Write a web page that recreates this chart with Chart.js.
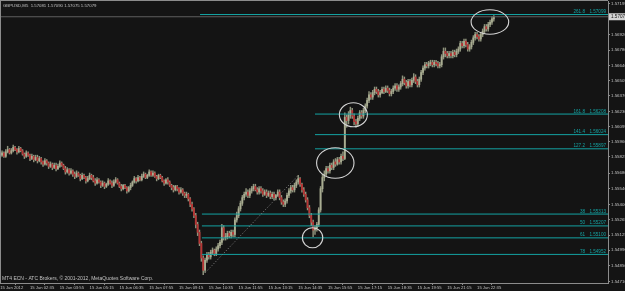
<!DOCTYPE html>
<html><head><meta charset="utf-8">
<script src="https://cdn.jsdelivr.net/npm/chart.js@4.4.1/dist/chart.umd.min.js"></script>
<style>html,body{margin:0;padding:0;background:#141414;}canvas{display:block;}</style>
</head><body>
<canvas id="c" width="625" height="291"></canvas>
<script>
const symbolTitle = "GBPUSD,M5  1.57081 1.57090 1.57075 1.57079";
const copyright = "MT4 ECN - ATC Brokers, \u00A9 2001-2012, MetaQuotes Software Corp.";
const timeLabels = ["15 Jun 2012","15 Jun 02:35","15 Jun 03:55","15 Jun 05:15","15 Jun 06:35","15 Jun 07:55","15 Jun 09:15","15 Jun 10:35","15 Jun 11:55","15 Jun 13:15","15 Jun 14:35","15 Jun 15:55","15 Jun 17:15","15 Jun 18:35","15 Jun 19:55","15 Jun 21:15","15 Jun 22:35"];
const timeLabelBars = [0,16,32,48,64,80,96,112,128,144,160,176,192,208,224,240,256];
const priceTicks = [1.57195,1.57060,1.56920,1.56780,1.56640,1.56505,1.56370,1.56230,1.56095,1.55960,1.55825,1.55680,1.55540,1.55400,1.55265,1.55125,1.54990,1.54850,1.54710];
const bidPrice = 1.57079;

const opens = [
1.5582,1.5584,1.5586,1.5583,1.5587,1.5589,1.5586,1.5588,1.5591,1.5589,
1.5587,1.5590,1.5588,1.5585,1.5583,1.5586,1.5584,1.5581,1.5583,1.5580,
1.5582,1.5579,1.5581,1.5578,1.5576,1.5579,1.5577,1.5574,1.5576,1.5573,
1.5575,1.5572,1.5574,1.5577,1.5575,1.5572,1.5569,1.5571,1.5568,1.5570,
1.5567,1.5565,1.5568,1.5566,1.5563,1.5566,1.5564,1.5561,1.5563,1.5566,
1.5564,1.5561,1.5559,1.5562,1.5560,1.5557,1.5559,1.5556,1.5558,1.5561,
1.5559,1.5557,1.5560,1.5562,1.5559,1.5556,1.5554,1.5557,1.5555,1.5552,
1.5555,1.5557,1.5560,1.5563,1.5561,1.5564,1.5562,1.5565,1.5567,1.5564,
1.5566,1.5569,1.5566,1.5568,1.5565,1.5563,1.5566,1.5564,1.5561,1.5559,
1.5562,1.5560,1.5557,1.5555,1.5553,1.5556,1.5554,1.5551,1.5553,1.5550,
1.5548,1.5549,1.5545,1.5540,1.5536,1.5530,1.5522,1.5515,1.5505,1.5492,
1.5481,1.5490,1.5495,1.5493,1.5497,1.5499,1.5496,1.5500,1.5503,1.5506,
1.5519,1.5510,1.5511,1.5514,1.5512,1.5515,1.5513,1.5526,1.5530,1.5536,
1.5541,1.5546,1.5549,1.5551,1.5548,1.5552,1.5554,1.5556,1.5553,1.5551,
1.5554,1.5552,1.5549,1.5551,1.5548,1.5550,1.5547,1.5549,1.5546,1.5548,
1.5551,1.5546,1.5542,1.5540,1.5543,1.5548,1.5552,1.5555,1.5553,1.5557,
1.5560,1.5563,1.5558,1.5553,1.5549,1.5544,1.5537,1.5530,1.5524,1.5517,
1.5519,1.5522,1.5535,1.5554,1.5564,1.5567,1.5572,1.5570,1.5575,1.5573,
1.5578,1.5576,1.5580,1.5578,1.5583,1.5581,1.5618,1.5615,1.5620,1.5624,
1.5619,1.5614,1.5612,1.5617,1.5622,1.5619,1.5624,1.5628,1.5633,1.5638,
1.5636,1.5640,1.5643,1.5641,1.5638,1.5640,1.5643,1.5641,1.5644,1.5642,
1.5639,1.5641,1.5644,1.5646,1.5643,1.5645,1.5648,1.5652,1.5649,1.5646,
1.5650,1.5647,1.5651,1.5654,1.5650,1.5647,1.5652,1.5658,1.5662,1.5665,
1.5664,1.5666,1.5667,1.5665,1.5667,1.5666,1.5664,1.5665,1.5672,1.5677,
1.5675,1.5673,1.5675,1.5673,1.5676,1.5674,1.5677,1.5679,1.5684,1.5682,
1.5686,1.5683,1.5679,1.5681,1.5685,1.5689,1.5692,1.5690,1.5688,1.5692,
1.5695,1.5699,1.5697,1.5701,1.5703,1.5706];
const highs = [
1.5586,1.5588,1.5587,1.5589,1.5592,1.5590,1.5590,1.5593,1.5592,1.5590,
1.5592,1.5591,1.5589,1.5586,1.5588,1.5587,1.5585,1.5585,1.5584,1.5584,
1.5584,1.5583,1.5582,1.5579,1.5581,1.5580,1.5578,1.5578,1.5577,1.5577,
1.5577,1.5576,1.5579,1.5578,1.5576,1.5574,1.5573,1.5572,1.5572,1.5571,
1.5569,1.5570,1.5569,1.5567,1.5568,1.5567,1.5565,1.5565,1.5568,1.5567,
1.5566,1.5563,1.5564,1.5563,1.5561,1.5561,1.5560,1.5559,1.5563,1.5562,
1.5561,1.5562,1.5564,1.5563,1.5560,1.5558,1.5558,1.5558,1.5556,1.5556,
1.5559,1.5561,1.5565,1.5564,1.5566,1.5565,1.5567,1.5569,1.5568,1.5567,
1.5571,1.5570,1.5570,1.5569,1.5566,1.5567,1.5567,1.5565,1.5562,1.5563,
1.5564,1.5561,1.5558,1.5557,1.5557,1.5557,1.5555,1.5555,1.5554,1.5551,
1.5551,1.5550,1.5546,1.5542,1.5537,1.5532,1.5524,1.5517,1.5507,1.5494,
1.5492,1.5497,1.5497,1.5499,1.5501,1.5500,1.5502,1.5505,1.5508,1.5522,
1.5521,1.5514,1.5516,1.5516,1.5517,1.5517,1.5528,1.5533,1.5538,1.5543,
1.5548,1.5551,1.5554,1.5553,1.5554,1.5556,1.5558,1.5558,1.5555,1.5556,
1.5556,1.5554,1.5553,1.5553,1.5552,1.5552,1.5551,1.5551,1.5549,1.5553,
1.5553,1.5548,1.5544,1.5545,1.5550,1.5554,1.5557,1.5557,1.5559,1.5562,
1.5566,1.5564,1.5559,1.5555,1.5551,1.5546,1.5539,1.5532,1.5526,1.5521,
1.5524,1.5537,1.5556,1.5567,1.5570,1.5574,1.5574,1.5577,1.5577,1.5580,
1.5581,1.5582,1.5582,1.5585,1.5587,1.5622,1.5620,1.5623,1.5627,1.5626,
1.5621,1.5616,1.5619,1.5624,1.5624,1.5626,1.5630,1.5635,1.5641,1.5640,
1.5642,1.5645,1.5645,1.5643,1.5642,1.5645,1.5645,1.5646,1.5646,1.5644,
1.5643,1.5646,1.5648,1.5648,1.5647,1.5650,1.5655,1.5654,1.5651,1.5652,
1.5652,1.5653,1.5657,1.5656,1.5652,1.5654,1.5660,1.5664,1.5667,1.5667,
1.5668,1.5669,1.5669,1.5669,1.5669,1.5668,1.5667,1.5674,1.5680,1.5680,
1.5677,1.5677,1.5677,1.5678,1.5678,1.5679,1.5681,1.5686,1.5686,1.5688,
1.5688,1.5685,1.5683,1.5687,1.5691,1.5694,1.5694,1.5692,1.5694,1.5697,
1.5701,1.5701,1.5703,1.5705,1.5708,1.5709];
const lows = [
1.5580,1.5583,1.5582,1.5582,1.5586,1.5585,1.5585,1.5587,1.5588,1.5585,
1.5586,1.5587,1.5584,1.5581,1.5582,1.5583,1.5579,1.5580,1.5578,1.5579,
1.5577,1.5578,1.5576,1.5574,1.5575,1.5575,1.5572,1.5573,1.5571,1.5572,
1.5570,1.5571,1.5573,1.5574,1.5571,1.5567,1.5568,1.5566,1.5567,1.5565,
1.5563,1.5564,1.5565,1.5561,1.5562,1.5563,1.5559,1.5560,1.5562,1.5562,
1.5560,1.5557,1.5558,1.5559,1.5555,1.5556,1.5554,1.5555,1.5557,1.5558,
1.5555,1.5556,1.5559,1.5558,1.5555,1.5552,1.5553,1.5554,1.5550,1.5551,
1.5553,1.5556,1.5559,1.5559,1.5560,1.5561,1.5561,1.5564,1.5563,1.5563,
1.5565,1.5565,1.5565,1.5564,1.5561,1.5562,1.5563,1.5560,1.5557,1.5558,
1.5558,1.5556,1.5553,1.5551,1.5552,1.5552,1.5549,1.5550,1.5548,1.5546,
1.5546,1.5543,1.5538,1.5534,1.5528,1.5519,1.5512,1.5503,1.5489,1.5477,
1.5479,1.5488,1.5491,1.5491,1.5495,1.5494,1.5494,1.5498,1.5501,1.5504,
1.5508,1.5508,1.5509,1.5510,1.5510,1.5511,1.5511,1.5524,1.5528,1.5534,
1.5539,1.5544,1.5547,1.5546,1.5546,1.5550,1.5552,1.5552,1.5549,1.5549,
1.5550,1.5547,1.5548,1.5546,1.5547,1.5545,1.5545,1.5544,1.5544,1.5547,
1.5544,1.5540,1.5538,1.5538,1.5541,1.5546,1.5550,1.5551,1.5551,1.5555,
1.5558,1.5556,1.5551,1.5547,1.5542,1.5535,1.5528,1.5521,1.5511,1.5513,
1.5516,1.5520,1.5533,1.5551,1.5561,1.5565,1.5568,1.5568,1.5571,1.5571,
1.5574,1.5575,1.5576,1.5576,1.5579,1.5580,1.5609,1.5612,1.5617,1.5617,
1.5611,1.5609,1.5610,1.5615,1.5617,1.5617,1.5622,1.5626,1.5631,1.5634,
1.5634,1.5638,1.5639,1.5636,1.5636,1.5639,1.5639,1.5640,1.5640,1.5637,
1.5637,1.5639,1.5642,1.5641,1.5641,1.5643,1.5646,1.5647,1.5644,1.5644,
1.5645,1.5645,1.5649,1.5648,1.5645,1.5645,1.5650,1.5656,1.5660,1.5662,
1.5662,1.5664,1.5663,1.5663,1.5664,1.5662,1.5662,1.5663,1.5670,1.5672,
1.5671,1.5671,1.5671,1.5671,1.5672,1.5672,1.5675,1.5677,1.5680,1.5680,
1.5681,1.5677,1.5677,1.5679,1.5683,1.5687,1.5688,1.5686,1.5686,1.5690,
1.5693,1.5695,1.5695,1.5699,1.5701,1.5704];
const closes = [
1.5584,1.5586,1.5583,1.5587,1.5589,1.5586,1.5588,1.5591,1.5589,1.5587,
1.5590,1.5588,1.5585,1.5583,1.5586,1.5584,1.5581,1.5583,1.5580,1.5582,
1.5579,1.5581,1.5578,1.5576,1.5579,1.5577,1.5574,1.5576,1.5573,1.5575,
1.5572,1.5574,1.5577,1.5575,1.5572,1.5569,1.5571,1.5568,1.5570,1.5567,
1.5565,1.5568,1.5566,1.5563,1.5566,1.5564,1.5561,1.5563,1.5566,1.5564,
1.5561,1.5559,1.5562,1.5560,1.5557,1.5559,1.5556,1.5558,1.5561,1.5559,
1.5557,1.5560,1.5562,1.5559,1.5556,1.5554,1.5557,1.5555,1.5552,1.5555,
1.5557,1.5560,1.5563,1.5561,1.5564,1.5562,1.5565,1.5567,1.5564,1.5566,
1.5569,1.5566,1.5568,1.5565,1.5563,1.5566,1.5564,1.5561,1.5559,1.5562,
1.5560,1.5557,1.5555,1.5553,1.5556,1.5554,1.5551,1.5553,1.5550,1.5548,
1.5549,1.5545,1.5540,1.5536,1.5530,1.5522,1.5515,1.5505,1.5492,1.5481,
1.5490,1.5495,1.5493,1.5497,1.5499,1.5496,1.5500,1.5503,1.5506,1.5519,
1.5510,1.5511,1.5514,1.5512,1.5515,1.5513,1.5526,1.5530,1.5536,1.5541,
1.5546,1.5549,1.5551,1.5548,1.5552,1.5554,1.5556,1.5553,1.5551,1.5554,
1.5552,1.5549,1.5551,1.5548,1.5550,1.5547,1.5549,1.5546,1.5548,1.5551,
1.5546,1.5542,1.5540,1.5543,1.5548,1.5552,1.5555,1.5553,1.5557,1.5560,
1.5563,1.5558,1.5553,1.5549,1.5544,1.5537,1.5530,1.5524,1.5517,1.5519,
1.5522,1.5535,1.5554,1.5564,1.5567,1.5572,1.5570,1.5575,1.5573,1.5578,
1.5576,1.5580,1.5578,1.5583,1.5581,1.5618,1.5615,1.5620,1.5624,1.5619,
1.5614,1.5612,1.5617,1.5622,1.5619,1.5624,1.5628,1.5633,1.5638,1.5636,
1.5640,1.5643,1.5641,1.5638,1.5640,1.5643,1.5641,1.5644,1.5642,1.5639,
1.5641,1.5644,1.5646,1.5643,1.5645,1.5648,1.5652,1.5649,1.5646,1.5650,
1.5647,1.5651,1.5654,1.5650,1.5647,1.5652,1.5658,1.5662,1.5665,1.5664,
1.5666,1.5667,1.5665,1.5667,1.5666,1.5664,1.5665,1.5672,1.5677,1.5675,
1.5673,1.5675,1.5673,1.5676,1.5674,1.5677,1.5679,1.5684,1.5682,1.5686,
1.5683,1.5679,1.5681,1.5685,1.5689,1.5692,1.5690,1.5688,1.5692,1.5695,
1.5699,1.5697,1.5701,1.5703,1.5706,1.57079];

const fiboNames = ["261.8","161.8","141.4","127.2","38","50","61","78"];
const fiboPrices = [1.57099,1.56208,1.56024,1.55897,1.55313,1.55207,1.55100,1.54952];
const fiboStartBars = [107.3,169,169,169,108.3,108.3,108.3,108.3];
const trendBars = [109,160];
const trendPrices = [1.5477,1.5566];
const markBars = [167.7,179.9,189.6,262.9];
const markPrices = [1.55101,1.55770,1.56202,1.57032];
</script>
<script>
const BG = '#141414', AXIS = '#8c8c8c', TXT = '#c2c2c2', TEAL = '#14a3a3';
const UP = '#a9ad92', DOWN = '#b83434', WICK = '#8f937c';
const FONT = '"Liberation Sans", Arial, sans-serif';
const XMIN = -0.1, XMAX = 326.3;
const markRadii = [[10.2,10],[18.7,15.3],[14,12],[18.8,12.2]];

const wickData = [], bodyData = [], bodyColors = [];
for (let i = 0; i < closes.length; i++) {
  wickData.push({x: i, y: [lows[i], highs[i]]});
  bodyData.push({x: i, y: [Math.min(opens[i], closes[i]), Math.max(opens[i], closes[i])]});
  bodyColors.push(closes[i] >= opens[i] ? UP : DOWN);
}

const lineDs = (pts, color, dash) => ({
  type: 'line', data: pts, borderColor: color, borderWidth: 1, borderDash: dash || [],
  pointRadius: 0, fill: false, tension: 0, order: 0
});

const datasets = [
  lineDs([{x: XMIN, y: bidPrice}, {x: XMAX, y: bidPrice}], '#5e5e5e'),
  {type: 'bar', data: wickData, backgroundColor: WICK, barThickness: 0.8, grouped: false, order: 3},
  {type: 'bar', data: bodyData, backgroundColor: bodyColors, barThickness: 1.2, minBarLength: 1, grouped: false, order: 2},
  lineDs([{x: trendBars[0], y: trendPrices[0]}, {x: trendBars[1], y: trendPrices[1]}], '#8a8a8a', [1, 2])
];
fiboPrices.forEach((p, k) => datasets.push(lineDs([{x: fiboStartBars[k], y: p}, {x: XMAX, y: p}], TEAL)));

const overlay = {
  id: 'overlay',
  afterDraw(chart) {
    const {ctx, chartArea: a, scales: {x, y}} = chart;
    ctx.save();
    ctx.strokeStyle = AXIS; ctx.lineWidth = 1;
    ctx.beginPath(); ctx.moveTo(0.5, a.top); ctx.lineTo(0.5, a.bottom);
    ctx.moveTo(0, 0.5); ctx.lineTo(a.right, 0.5); ctx.stroke();
    ctx.fillStyle = TXT; ctx.textBaseline = 'middle'; ctx.textAlign = 'left';
    ctx.font = '4.3px ' + FONT;
    ctx.fillText(symbolTitle, 3, 5.5);
    ctx.font = '5px ' + FONT;
    ctx.fillText(copyright, 2, 279);
    ctx.fillStyle = TEAL; ctx.textBaseline = 'bottom'; ctx.font = '4.6px ' + FONT;
    fiboPrices.forEach((p, k) => {
      const py = y.getPixelForValue(p);
      ctx.textAlign = 'right';
      ctx.fillText(fiboNames[k], 585, py - 0.5);
      ctx.fillText(p.toFixed(5), 606, py - 0.5);
    });
    ctx.strokeStyle = '#d6d6d6'; ctx.lineWidth = 1.1;
    markBars.forEach((b, k) => {
      ctx.beginPath();
      ctx.ellipse(x.getPixelForValue(b), y.getPixelForValue(markPrices[k]), markRadii[k][0], markRadii[k][1], 0, 0, Math.PI * 2);
      ctx.stroke();
    });
    const by = y.getPixelForValue(bidPrice);
    ctx.fillStyle = '#d2d2d2';
    ctx.fillRect(a.right + 1, by - 3.5, 625 - a.right, 7);
    ctx.fillStyle = '#111'; ctx.textAlign = 'left'; ctx.textBaseline = 'middle'; ctx.font = '4.6px ' + FONT;
    ctx.fillText(bidPrice.toFixed(5), a.right + 3, by);
    ctx.restore();
  }
};

Chart.defaults.font.family = FONT;
new Chart(document.getElementById('c'), {
  type: 'bar',
  data: {datasets},
  options: {
    animation: false, responsive: false, maintainAspectRatio: false,
    layout: {autoPadding: false, padding: {left: 0, top: 1, right: 0, bottom: 0}},
    plugins: {legend: {display: false}, tooltip: {enabled: false}},
    scales: {
      x: {
        type: 'linear', min: XMIN, max: XMAX, offset: false,
        afterBuildTicks: s => { s.ticks = timeLabelBars.map(v => ({value: v})); },
        afterFit: s => { s.height = 8; s.paddingLeft = 0; s.paddingRight = 0; },
        ticks: {autoSkip: false, maxRotation: 0, minRotation: 0, align: 'start', padding: 0, color: TXT,
          font: {size: 4.2}, callback: (v, i) => timeLabels[i]},
        grid: {drawOnChartArea: false, drawTicks: true, tickLength: 2, color: AXIS},
        border: {display: true, color: AXIS}
      },
      y: {
        position: 'right', min: 1.54696, max: 1.57220,
        afterBuildTicks: s => { s.ticks = priceTicks.map(v => ({value: v})); },
        afterFit: s => { s.width = 17; s.paddingTop = 0; s.paddingBottom = 0; },
        ticks: {autoSkip: false, padding: 1, color: TXT, font: {size: 4.4}, callback: v => Number(v).toFixed(5)},
        grid: {drawOnChartArea: false, drawTicks: true, tickLength: 2, color: AXIS},
        border: {display: true, color: AXIS}
      }
    }
  },
  plugins: [overlay]
});
</script>
</body></html>
